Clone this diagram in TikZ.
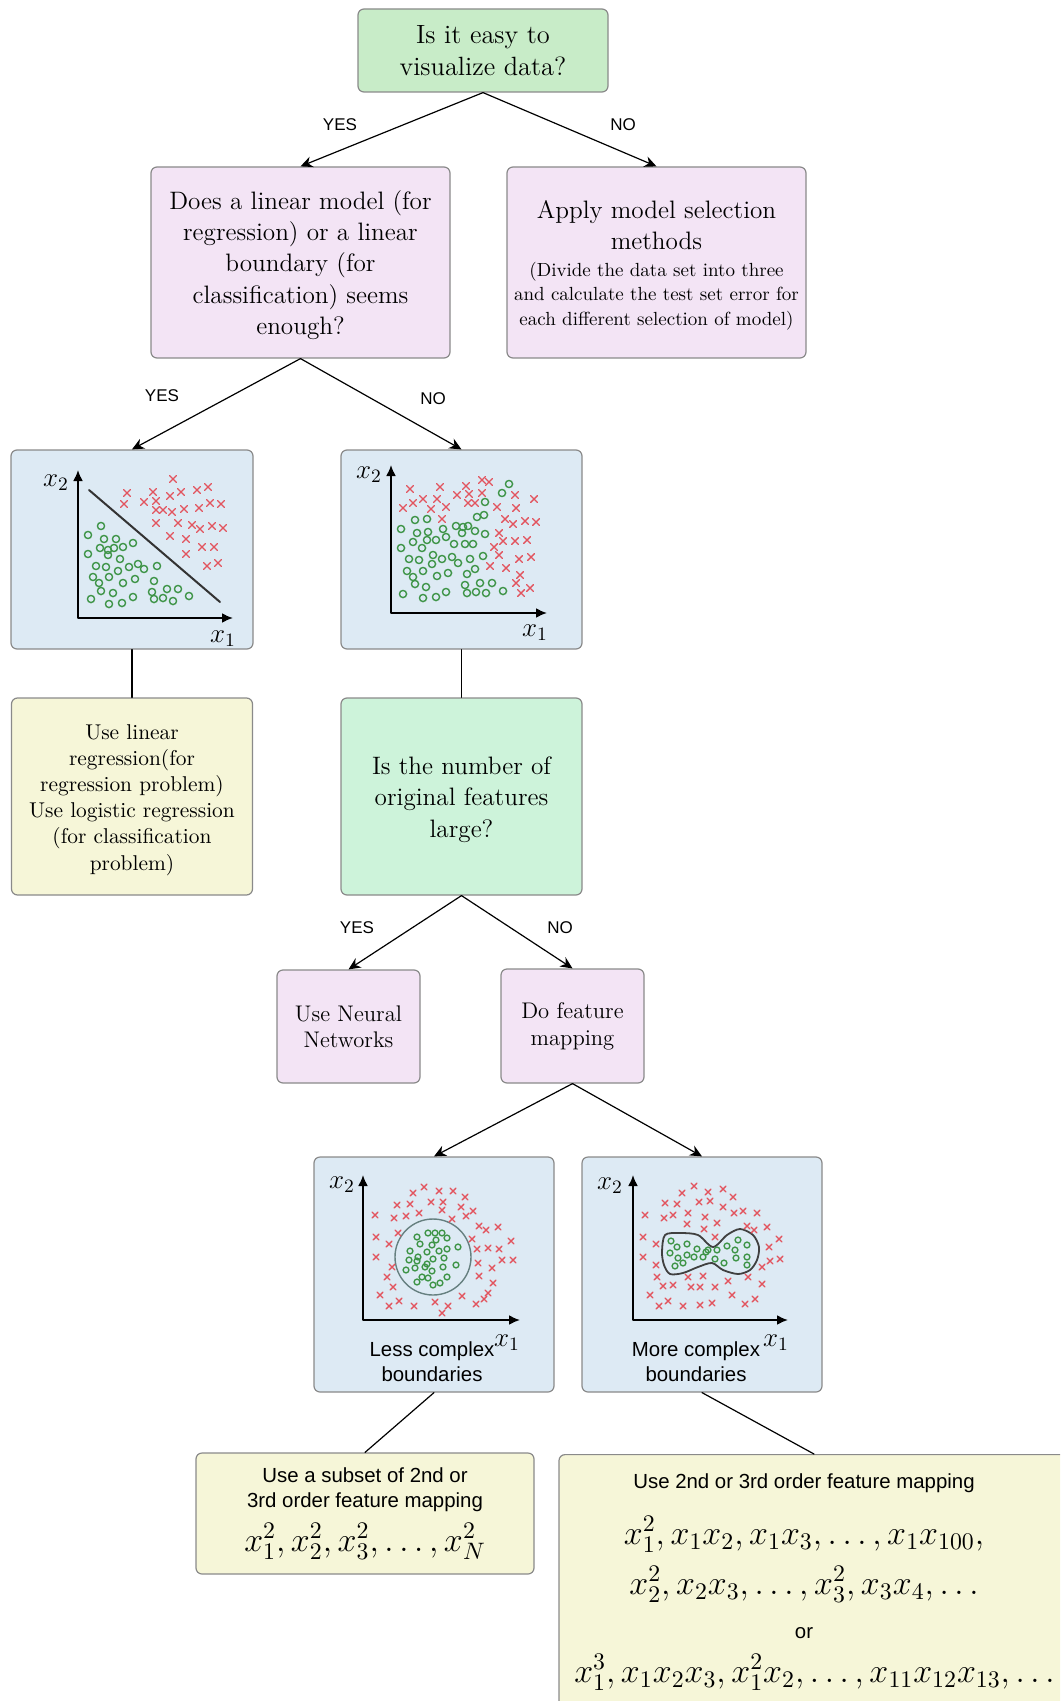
\documentclass[tikz,border=0pt]{standalone}
\usepackage{fix-cm}
\usepackage{fontspec}
\setsansfont{Liberation Sans}
\usetikzlibrary{arrows.meta}
\definecolor{askgreen}{HTML}{C8ECC8}
\definecolor{askmint}{HTML}{CDF3DA}
\definecolor{dopurple}{HTML}{F3E4F5}
\definecolor{plotblue}{HTML}{DDEAF4}
\definecolor{useyellow}{HTML}{F6F6D8}
\definecolor{rimgray}{HTML}{8A8A8A}
\definecolor{crossred}{HTML}{E2545E}
\definecolor{ringgreen}{HTML}{3E9447}
\newcommand{\bigmath}{\fontsize{17}{21}\selectfont}
\newcommand{\smallserif}{\fontsize{9.5}{12.5}\selectfont}
\newcommand{\sanstext}{\sffamily\fontsize{10.2}{12.4}\selectfont}
\newcommand{\topstrut}[1]{\rule{0pt}{#1}}
\tikzset{
  box/.style={draw=rimgray, line width=0.6pt, rounded corners=3pt, inner sep=0pt, align=center, text=black},
  ask/.style={box, font=\fontsize{12.6}{15.6}\selectfont},
  lbl/.style={font=\sffamily\fontsize{8.5}{10}\selectfont, inner sep=0pt},
  link/.style={line width=0.6pt},
  axes/.style={line width=1pt, {Latex[length=5.5pt,width=5pt]}-{Latex[length=5.5pt,width=5pt]}},
  axlbl/.style={font=\fontsize{13.5}{15}\selectfont, inner sep=0pt},
  xmark/.style={crossred, line width=0.7pt},
  omark/.style={ringgreen, line width=0.7pt},
  sans/.style={font=\sanstext, inner sep=0pt, align=center},
}
\begin{document}
\begin{tikzpicture}[x=0.5pt, y=-0.5pt, line join=round, line cap=round, >={Stealth[length=6pt,width=5.5pt]}]
 \useasboundingbox (0,0) rectangle (1060,1701);
 \clip (0,0) rectangle (1060,1701);

 \node[ask, fill=askgreen, minimum width=125pt, minimum height=41.5pt, font=\fontsize{13.2}{16}\selectfont] (easy) at (483,50.5) {Is it easy to\\visualize data?};
 \node[ask, fill=dopurple, minimum width=149.5pt, minimum height=95.5pt] (linear) at (300.5,262.5) {\topstrut{12pt}Does a linear model (for\\regression) or a linear\\boundary (for\\classification) seems\\enough?};
 \node[ask, fill=dopurple, minimum width=149.5pt, minimum height=95.5pt] (select) at (656.5,262.5) {\topstrut{12pt}Apply model selection\\methods\\[-2.5pt]\smallserif (Divide the data set into three\\[-3.2pt]\smallserif and calculate the test set error for\\[-3.2pt]\smallserif each different selection of model)};
 \node[box, fill=plotblue, minimum width=121pt, minimum height=99.5pt] (linplot) at (132,549.5) {};
 \node[box, fill=plotblue, minimum width=120.5pt, minimum height=99.5pt] (mixplot) at (461.5,549.5) {};
 \node[box, fill=useyellow, minimum width=120.5pt, minimum height=98.5pt, font=\fontsize{10.7}{13.1}\selectfont] (logreg) at (132,796.5) {\topstrut{10.7pt}Use linear\\regression(for\\regression problem)\\Use logistic regression\\(for classification\\problem)};
 \node[ask, fill=askmint, minimum width=120.5pt, minimum height=98.5pt] (many) at (461.5,796.5) {\topstrut{12pt}Is the number of\\original features\\large?};
 \node[box, fill=dopurple, minimum width=71.5pt, minimum height=56.5pt, font=\fontsize{11.3}{13.2}\selectfont] (neural) at (348.5,1026.5) {Use Neural\\Networks};
 \node[box, fill=dopurple, minimum width=71.5pt, minimum height=57pt, font=\fontsize{11.3}{13.4}\selectfont] (mapping) at (572.5,1026) {Do feature\\mapping};
 \node[box, fill=plotblue, minimum width=120pt, minimum height=117.5pt] (lessplot) at (434,1274.5) {};
 \node[box, fill=plotblue, minimum width=120pt, minimum height=117.5pt] (moreplot) at (702,1274.5) {};
 \node[box, fill=useyellow, minimum width=169pt, minimum height=60.5pt, font=\sanstext] (subset) at (365,1513.5) {Use a subset of 2nd or\\3rd order feature mapping\\[5pt]\bigmath$x_1^2, x_2^2, x_3^2, \ldots, x_N^2$};
 \node[box, fill=useyellow, minimum width=255pt, minimum height=150pt, anchor=north] (full) at (814,1454) {};
 \node[inner sep=0pt, align=center, anchor=north, font=\fontsize{17}{25}\selectfont] (fulltxt) at (804,1473) {\sanstext Use 2nd or 3rd order feature mapping\\[3pt]$x_1^2, x_1x_2, x_1x_3, \ldots, x_1x_{100},$\\$x_2^2, x_2x_3, \ldots, x_3^2, x_3x_4, \ldots$\\[-3pt]\sanstext or\\[-3pt]\hspace*{10.5pt}$x_1^3, x_1x_2x_3, x_1^2x_2, \ldots, x_{11}x_{12}x_{13}, \ldots$};

 \draw[link,->] (easy.south) -- (linear.north);
 \draw[link,->] (easy.south) -- (select.north);
 \draw[link,->] (linear.south) -- (linplot.north);
 \draw[link,->] (linear.south) -- (mixplot.north);
 \draw[link] (linplot.south) -- (logreg.north);
 \draw[link] (mixplot.south) -- (many.north);
 \draw[link,->] (many.south) -- (neural.north);
 \draw[link,->] (many.south) -- (mapping.north);
 \draw[link,->] (mapping.south) -- (lessplot.north);
 \draw[link,->] (mapping.south) -- (moreplot.north);
 \draw[link] (lessplot.south) -- (subset.north);
 \draw[link] (moreplot.south) -- (full.north);
 \node[lbl] (yes1) at (340,125) {YES};
 \node[lbl] (no1) at (623,125) {NO};
 \node[lbl] (yes2) at (162,396) {YES};
 \node[lbl] (no2) at (433,399) {NO};
 \node[lbl] (yes3) at (357,928) {YES};
 \node[lbl] (no3) at (560,928) {NO};

 \draw[axes] (78,470) -- (78,618) -- (233,618);
 \node[axlbl] (lin2) at (56,483) {$x_2$};
 \node[axlbl] (lin1) at (223,639) {$x_1$};
 \draw[line width=1pt, black!80] (89,490) -- (220,602);
 \foreach \x/\y in {173/479,127/493,153/492,170/496,181/492,197/490,208/487,124/504,144/502,156/501,156/510,163/510,172/512,184/509,199/508,210/503,221/504,156/523,178/523,192/525,200/529,212/526,223/528,170/536,186/539,202/547,214/547,186/554,207/566,218/563}
  \draw[xmark] (\x-3.4,\y-3.4) -- (\x+3.4,\y+3.4) (\x-3.4,\y+3.4) -- (\x+3.4,\y-3.4);
 \foreach \x/\y in {101/526,88/535,104/539,116/539,88/554,100/548,108/550,114/548,123/547,133/543,108/555,96/566,106/567,120/559,118/571,129/567,138/564,144/569,157/566,93/577,99/583,109/577,123/583,135/579,154/581,101/591,113/593,133/597,152/592,167/589,178/589,189/596,91/599,109/604,122/603,154/599,163/598,173/601}
  \draw[omark] (\x,\y) circle[radius=3.6];

 \draw[axes] (391,465) -- (391,613) -- (547,613);
 \node[axlbl] (mix2) at (369,475) {$x_2$};
 \node[axlbl] (mix1) at (535,633) {$x_1$};
 \foreach \x/\y in {410/489,440/487,466/486,482/480,489/482,403/508,413/503,423/499,437/499,431/509,446/507,457/495,469/494,482/493,468/503,475/503,515/495,534/499,497/507,516/508,442/519,505/519,513/524,525/521,536/522,499/533,503/541,515/541,527/540,494/547,499/555,519/559,531/557,490/566,506/568,520/575,516/583,521/593,530/588}
  \draw[xmark] (\x-3.4,\y-3.4) -- (\x+3.4,\y+3.4) (\x-3.4,\y+3.4) -- (\x+3.4,\y-3.4);
 \foreach \x/\y in {509/484,502/493,485/502,477/517,484/515,415/520,427/519,401/529,417/533,428/532,443/529,456/526,463/527,468/526,475/531,485/534,413/542,427/540,436/540,446/537,462/533,401/548,422/548,454/544,465/544,473/544,409/559,419/560,433/555,442/559,452/557,458/563,470/559,483/556,432/564,407/571,423/571,437/576,448/573,467/574,475/569,413/577,415/584,426/587,465/585,480/583,492/583,403/594,423/598,436/597,446/592,467/593,476/592,486/593,503/591}
  \draw[omark] (\x,\y) circle[radius=3.6];

 \draw[axes] (363,1175) -- (363,1320) -- (520,1320);
 \node[axlbl] (less2) at (342,1185) {$x_2$};
 \node[axlbl] (less1) at (507,1343) {$x_1$};
 \node[sans] (lesstxt) at (432,1362) {Less complex\\boundaries};
 \draw[line width=0.7pt, gray!80!teal] (433,1257) circle[radius=38];
 \foreach \x/\y in {424/1187,439/1191,453/1191,413/1193,431/1202,443/1202,465/1197,397/1205,410/1204,442/1210,461/1207,473/1211,375/1215,394/1218,406/1216,419/1213,452/1219,466/1216,479/1226,486/1230,498/1227,376/1237,389/1244,398/1233,472/1239,477/1249,488/1248,499/1249,511/1241,376/1257,478/1263,492/1268,502/1260,513/1260,392/1267,387/1277,393/1287,479/1276,493/1283,380/1295,399/1301,389/1306,414/1306,435/1302,442/1313,448/1306,462/1296,476/1304,484/1299,488/1293}
  \draw[xmark] (\x-2.8,\y-2.8) -- (\x+2.8,\y+2.8) (\x-2.8,\y+2.8) -- (\x+2.8,\y-2.8);
 \foreach \x/\y in {417/1237,428/1233,435/1233,442/1233,447/1238,436/1240,420/1244,432/1245,439/1251,447/1249,458/1247,410/1251,418/1257,427/1252,409/1260,417/1261,427/1264,433/1259,444/1258,406/1270,415/1268,425/1267,432/1271,443/1267,456/1265,422/1277,417/1282,428/1278,447/1277,433/1285,440/1283}
  \draw[omark] (\x,\y) circle[radius=2.9];

 \draw[axes] (633,1175) -- (633,1320) -- (788,1320);
 \node[axlbl] (more2) at (610,1186) {$x_2$};
 \node[axlbl] (more1) at (776,1343) {$x_1$};
 \node[sans] (moretxt) at (696,1362) {More complex\\boundaries};
 \draw[line width=0.9pt, black!75] plot[smooth cycle] coordinates {(665,1235) (680,1233) (698,1235) (713,1247) (727,1235) (740,1229) (753,1235) (759,1247) (757,1260) (750,1270) (738,1274) (723,1270) (712,1263) (698,1267) (683,1273) (670,1274) (664,1265) (662,1252)};
 \foreach \x/\y in {682/1193,694/1186,708/1192,723/1189,733/1197,665/1203,677/1204,699/1202,710/1201,723/1207,734/1213,743/1211,757/1213,645/1215,664/1218,673/1215,688/1213,705/1217,717/1223,687/1224,704/1229,715/1237,747/1226,754/1230,767/1227,643/1237,656/1244,779/1239,769/1247,643/1257,656/1265,780/1259,770/1261,762/1267,657/1277,663/1286,673/1285,688/1277,703/1276,691/1287,700/1287,715/1287,728/1281,748/1277,762/1284,650/1295,668/1301,659/1306,683/1306,700/1305,712/1303,732/1295,745/1304,755/1299}
  \draw[xmark] (\x-2.8,\y-2.8) -- (\x+2.8,\y+2.8) (\x-2.8,\y+2.8) -- (\x+2.8,\y-2.8);
 \foreach \x/\y in {671/1241,677/1247,687/1244,697/1249,706/1252,717/1250,727/1246,738/1240,747/1245,670/1253,678/1258,687/1255,694/1257,703/1257,715/1259,724/1263,736/1258,747/1257,675/1266,683/1263,747/1265,735/1250,708/1250}
  \draw[omark] (\x,\y) circle[radius=2.9];
\end{tikzpicture}
\end{document}
